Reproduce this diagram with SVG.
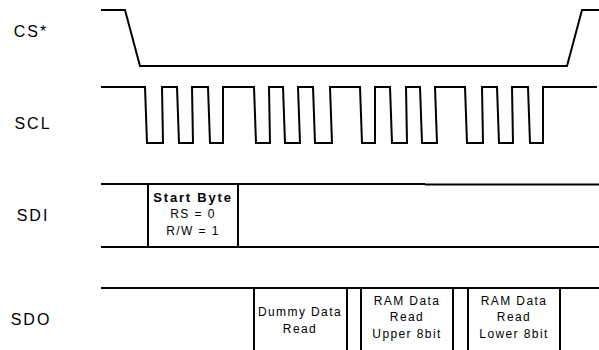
<svg xmlns="http://www.w3.org/2000/svg" width="599" height="350" viewBox="0 0 599 350">
<style>
.sig{fill:none;stroke:#000;stroke-width:2;stroke-linejoin:miter}
.lbl{font-family:"Liberation Sans",Arial,sans-serif;font-size:16px;letter-spacing:2px;text-anchor:middle;fill:#000}
.box{font-family:"Liberation Sans",Arial,sans-serif;font-size:12px;letter-spacing:1.4px;text-anchor:middle;fill:#000}
.bold{font-weight:bold;font-size:13px;letter-spacing:1.8px}
</style>
<rect width="599" height="350" fill="#fff"/>
<g id="labels">
<text class="lbl" x="31" y="37">CS*</text>
<text class="lbl" x="33" y="129">SCL</text>
<text class="lbl" x="33" y="221">SDI</text>
<text class="lbl" x="31" y="325">SDO</text>
</g>
<g id="connectors">
<path id="cs" class="sig" d="M101,10 H125 L140,66 H567 L582,10 H599"/>
<path id="scl" class="sig" d="M101,87 H145 L147,143 H163 L162,87 H177 L179,143 H193 L192,87 H208 L210,143 H223 L223,87 H254 L256,143 H270 L269,87 H283 L285,143 H300 L298,87 H313 L315,143 H332 L330,87 H360 L362,143 H375 L375,87 H390 L392,143 H407 L406,87 H420 L422,143 H437 L435,87 H465 L467,143 H483 L482,87 H497 L499,143 H513 L512,87 H528 L530,143 H543 L543,87 H597"/>
<path class="sig" d="M101,184 H425"/>
<path class="sig" d="M425,184.6 H599" stroke="#222"/>
<path class="sig" d="M101,247 H599"/>
<path class="sig" d="M101,288 H599"/>
</g>
<g id="start-byte">
<path class="sig" d="M148,184 V247 M238,184 V247"/>
<text class="box bold" x="193" y="202">Start Byte</text>
<text class="box" x="193" y="218">RS = 0</text>
<text class="box" x="193" y="235">R/W = 1</text>
</g>
<g id="dummy-data">
<path class="sig" d="M254,288 V350 M347,288 V350"/>
<text class="box" x="300" y="316">Dummy Data</text>
<text class="box" x="300" y="333">Read</text>
</g>
<g id="ram-upper">
<path class="sig" d="M361,288 V350 M453,288 V350"/>
<text class="box" x="407" y="305">RAM Data</text>
<text class="box" x="407" y="321">Read</text>
<text class="box" x="407" y="338">Upper 8bit</text>
</g>
<g id="ram-lower">
<path class="sig" d="M468,288 V350 M560,288 V350"/>
<text class="box" x="514" y="305">RAM Data</text>
<text class="box" x="514" y="321">Read</text>
<text class="box" x="514" y="338">Lower 8bit</text>
</g>
</svg>
